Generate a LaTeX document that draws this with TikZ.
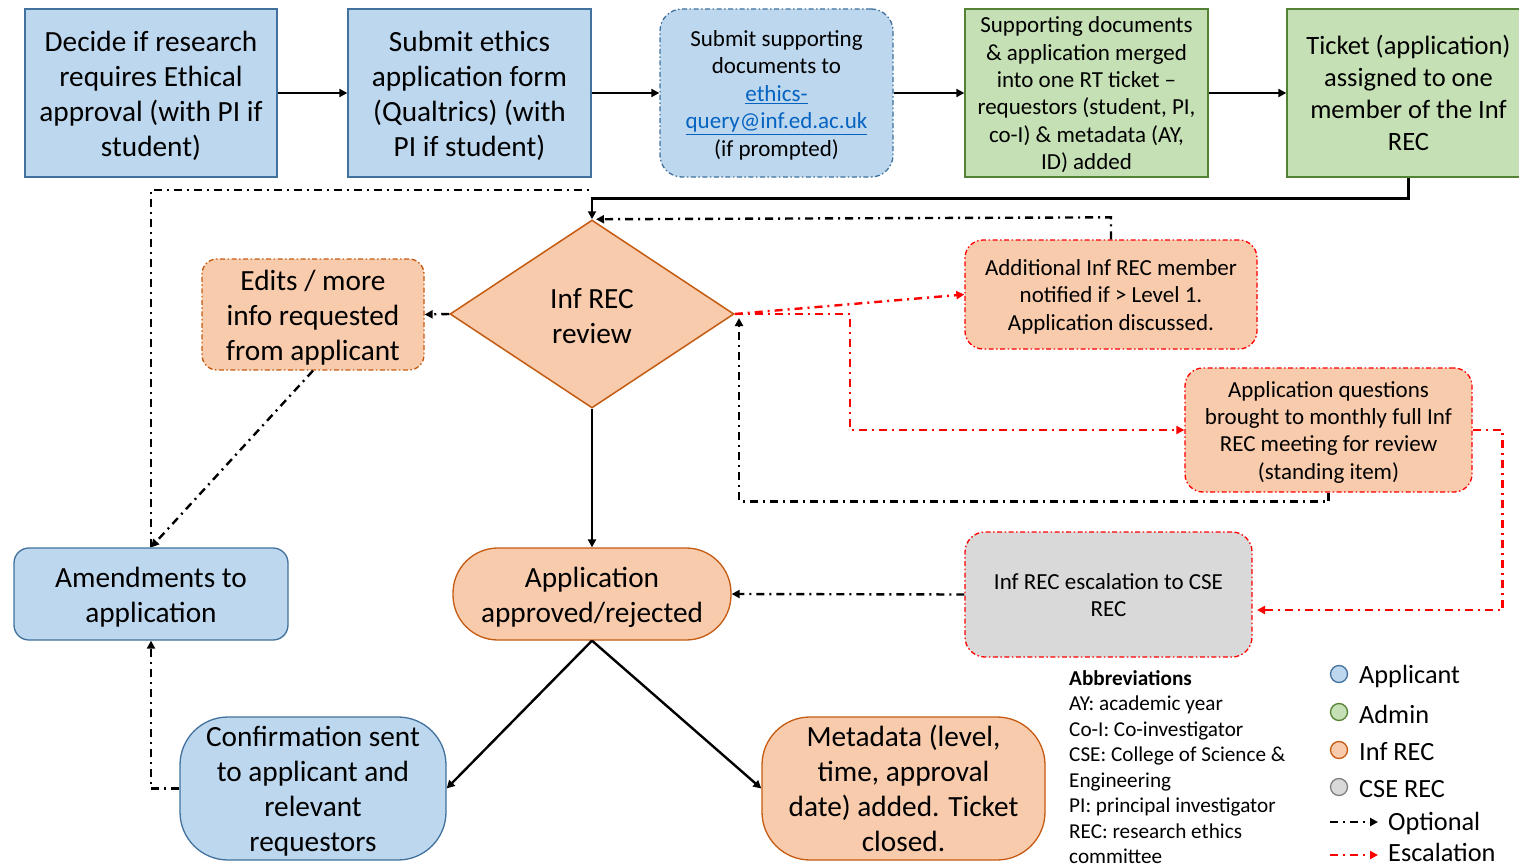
\documentclass[tikz,border=0pt]{standalone}
\usepackage{fontspec}
\setmainfont{Carlito}
\usetikzlibrary{arrows.meta,shapes.geometric}
\definecolor{appfill}{HTML}{BDD7EE}
\definecolor{appline}{HTML}{41719C}
\definecolor{admfill}{HTML}{C5E0B4}
\definecolor{admline}{HTML}{548235}
\definecolor{recfill}{HTML}{F8CBAD}
\definecolor{recline}{HTML}{C55A11}
\definecolor{csefill}{HTML}{D9D9D9}
\definecolor{cseline}{HTML}{7F7F7F}
\definecolor{linkblue}{HTML}{0563C1}
\definecolor{escred}{HTML}{FF0000}
\newcommand{\tstr}{\rule{0pt}{0.97em}}
\newcommand{\bstr}{\rule[-0.25em]{0pt}{0.25em}}
\tikzset{
  big/.style={font=\fontsize{29.3}{35}\selectfont},
  mid/.style={font=\fontsize{26.5}{31.7}\selectfont},
  small/.style={font=\fontsize{23}{27.4}\selectfont},
  tiny/.style={font=\fontsize{21.2}{25.5}\selectfont},
  legtext/.style={font=\fontsize{26.3}{30}\selectfont, anchor=west, inner sep=0pt},
  boxbase/.style={line width=1.3pt, align=center, inner sep=0pt},
  appbox/.style={boxbase, draw=appline, fill=appfill},
  admbox/.style={boxbase, draw=admline, fill=admfill},
  recbox/.style={boxbase, draw=recline, fill=recfill},
  csebox/.style={boxbase, draw=cseline, fill=csefill},
  dashbord/.style={dash pattern=on 5pt off 2.5pt on 1.5pt off 2.5pt},
  conn/.style={line width=2.4pt, -{Triangle[length=8pt,width=8pt]}},
  optline/.style={line width=2.4pt, dash pattern=on 8pt off 5pt on 2pt off 5pt},
  optc/.style={conn, optline},
  escc/.style={optc, draw=escred}
}
\begin{document}
\begin{tikzpicture}[x=1pt,y=-1pt]
\useasboundingbox (0,0) rectangle (1519,867);

% top row
\node[appbox, big, minimum width=252, minimum height=168] (n1) at (151,93)
  {\tstr Decide if research\\requires Ethical\\approval (with PI if\\student)\bstr};
\node[appbox, big, minimum width=243, minimum height=168] (n2) at (469.5,93)
  {\tstr Submit ethics\\application form\\(Qualtrics) (with\\PI if student)\bstr};
\node[appbox, small, dashbord, rounded corners=22pt, minimum width=233, minimum height=168] (n3) at (776.5,93)
  {\tstr Submit supporting\\documents to\\\textcolor{linkblue}{\underline{ethics-}}\\\textcolor{linkblue}{\underline{query@inf.ed.ac.uk}}\\(if prompted)\bstr};
\node[admbox, small, minimum width=243, minimum height=168] (n4) at (1086.5,93)
  {\tstr Supporting documents\\\& application merged\\into one RT ticket –\\requestors (student, PI,\\co-I) \& metadata (AY,\\ID) added\bstr};
\node[admbox, mid, minimum width=243, minimum height=168] (n5) at (1408.5,93)
  {\tstr Ticket (application)\\assigned to one\\member of the Inf\\REC\bstr};

% review diamond
\node[diamond, draw=recline, fill=recfill, line width=1.5pt, inner sep=0pt, aspect=1.5,
      minimum width=284, minimum height=188, big, align=center] (rev) at (592,314)
  {\rule{0pt}{0.8em}Inf REC\\review};

\node[recbox, big, dashbord, rounded corners=15pt, minimum width=222, minimum height=111] (ed) at (313,314.5)
  {\tstr Edits / more\\info requested\\from applicant\bstr};
\node[recbox, small, dashbord, draw=escred, rounded corners=18pt, minimum width=292, minimum height=109] (add) at (1111,294.5)
  {\tstr Additional Inf REC member\\notified if > Level 1.\\Application discussed.\bstr};
\node[recbox, small, dashbord, draw=escred, rounded corners=18pt, minimum width=287, minimum height=124] (aq) at (1328.5,430)
  {\tstr Application questions\\brought to monthly full Inf\\REC meeting for review\\(standing item)\bstr};

\node[appbox, big, rounded corners=15pt, minimum width=274, minimum height=92] (am) at (151,594)
  {\tstr Amendments to\\application\bstr};
\node[recbox, big, rounded corners=45pt, minimum width=278, minimum height=92] (ap) at (592,594)
  {\tstr Application\\approved/rejected\bstr};
\node[csebox, small, dashbord, draw=escred, rounded corners=20pt, minimum width=287, minimum height=125] (esc) at (1108.5,594.5)
  {\tstr Inf REC escalation to CSE\\REC\bstr};

\node[appbox, big, rounded corners=48pt, minimum width=266, minimum height=143] (conf) at (313,788.5)
  {\tstr Confirmation sent\\to applicant and\\relevant\\requestors\bstr};
\node[recbox, big, rounded corners=48pt, minimum width=283, minimum height=143] (meta) at (903.5,788.5)
  {\tstr Metadata (level,\\time, approval\\date) added. Ticket\\closed.\bstr};

% connectors: top row
\draw[conn] (n1.east) -- (n2.west);
\draw[conn] (n2.east) -- (n3.west);
\draw[conn] (n3.east) -- (n4.west);
\draw[conn] (n4.east) -- (n5.west);
\draw[conn] (n5.south) -- ++(0,21) -| (rev.north);

% amendments back to review
\draw[optline] (am.north) |- (590,190);
\draw[optc] (add.north) -- ++(0,-22) -- ([xshift=4pt]rev.north);

% review outgoing
\draw[optc] (rev.west) -- (ed.east);
\draw[optc] (ed.south) -- (am.north);
\draw[conn] (rev.south) -- (ap.north);
\draw[escc] (rev.east) -- (add.west);
\draw[escc] (rev.east) -- ++(115,0) |- (aq.west);
\draw[optc] (aq.south) -- ++(0,9) -| (739,318);
\draw[escc] (aq.east) -- ++(30,0) |- (1257,610);
\draw[optc] (esc.west) -- (ap.east);

% outcome
\draw[conn] (ap.south) -- (conf.east);
\draw[conn] (ap.south) -- (meta.west);
\draw[optc] (conf.west) -| (am.south);

% abbreviations
\node[tiny, anchor=north west, inner sep=0pt, align=left] (abbr) at (1069,670)
  {\textbf{Abbreviations}\\AY: academic year\\Co-I: Co-investigator\\CSE: College of Science \&\\Engineering\\PI: principal investigator\\REC: research ethics\\committee};

% legend
\node[circle, draw=appline, fill=appfill, line width=1.3pt, minimum size=17pt, inner sep=0pt] (c1) at (1339,674) {};
\node[legtext] (t1) at (1359,676) {Applicant};
\node[circle, draw=admline, fill=admfill, line width=1.3pt, minimum size=17pt, inner sep=0pt] (c2) at (1339,712) {};
\node[legtext] (t2) at (1359,714) {Admin};
\node[circle, draw=recline, fill=recfill, line width=1.3pt, minimum size=17pt, inner sep=0pt] (c3) at (1339,750) {};
\node[legtext] (t3) at (1359,752) {Inf REC};
\node[circle, draw=cseline, fill=csefill, line width=1.3pt, minimum size=17pt, inner sep=0pt] (c4) at (1339,787) {};
\node[legtext] (t4) at (1359,789) {CSE REC};
\coordinate (o1) at (1330,822);
\coordinate (o2) at (1378,822);
\draw[optc] (o1) -- (o2);
\node[legtext] (t5) at (1388,823) {Optional};
\coordinate (e1) at (1330,855);
\coordinate (e2) at (1378,855);
\draw[escc] (e1) -- (e2);
\node[legtext] (t6) at (1388,852) {Escalation};
\end{tikzpicture}
\end{document}
